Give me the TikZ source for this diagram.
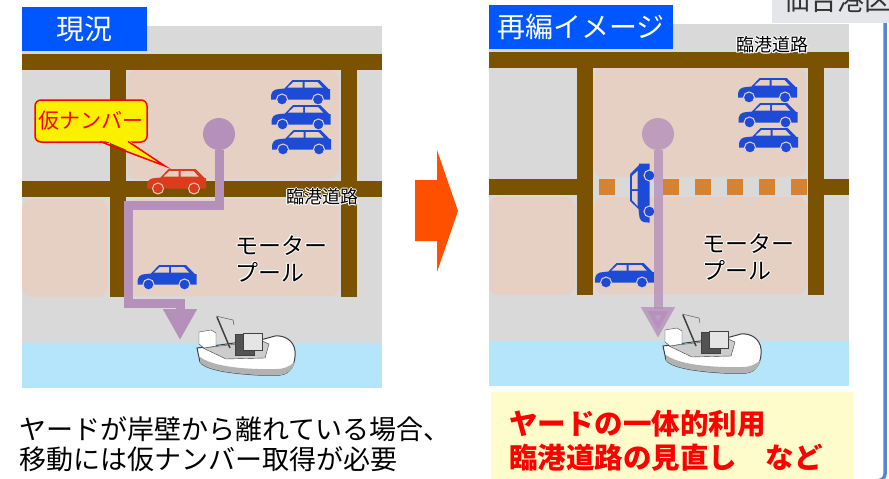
\documentclass[tikz,border=0pt]{standalone}
\usepackage{fontspec}
\setmainfont{Noto Sans CJK JP}
\usetikzlibrary{arrows.meta}

\definecolor{titleblue}{HTML}{0057FF}
\definecolor{yardgray}{HTML}{D9D9D9}
\definecolor{roadbrown}{HTML}{7B5300}
\definecolor{blockpink}{HTML}{E6D0C4}
\definecolor{seablue}{HTML}{B5E5FB}
\definecolor{carblue}{HTML}{1E4BD6}
\definecolor{carred}{HTML}{DC3C1E}
\definecolor{routepurple}{HTML}{B590BA}
\definecolor{gateorange}{HTML}{D6822E}
\definecolor{nextorange}{HTML}{FF5000}
\definecolor{notebg}{HTML}{FFFCCB}
\definecolor{tagyellow}{HTML}{FAF000}
\definecolor{framegray}{HTML}{E4E6EA}
\definecolor{frameblue}{HTML}{5A86CB}
\definecolor{hullline}{HTML}{404040}

% white rim round a label
\newcommand{\halo}[1]{\leavevmode\rlap{\color{white}%
  \rlap{\kern1pt#1}\rlap{\kern-1pt#1}\rlap{\raisebox{1pt}{#1}}\rlap{\raisebox{-1pt}{#1}}%
  \rlap{\kern.7pt\raisebox{.7pt}{#1}}\rlap{\kern-.7pt\raisebox{.7pt}{#1}}%
  \rlap{\kern.7pt\raisebox{-.7pt}{#1}}\rlap{\kern-.7pt\raisebox{-.7pt}{#1}}}#1}

\newcommand{\fs}[1]{\fontsize{#1}{#1}\selectfont}

\tikzset{
  road/.style={fill=roadbrown},
  block/.style={fill=blockpink, rounded corners=10pt},
  route/.style={draw=routepurple, line width=9pt, -{Triangle[width=32pt,length=31pt]}},
  depot/.style={circle, fill=routepurple, minimum size=32pt, inner sep=0pt},
  title/.style={fill=titleblue, text=white, font=\fs{28}, inner sep=0pt,
    minimum height=44pt, anchor=north west},
  label/.style={font=\fs{18}, inner sep=0pt},
  poolname/.style={font=\fs{23}, inner sep=0pt, anchor=base west},
  pics/car/.style={code={
    \fill[#1] (-29.5,6) .. controls (-29.5,-1) and (-27,-2.5) .. (-21,-3) -- (-16,-3.5)
      -- (-8,-12) -- (19,-12) -- (28,-3) -- (29.5,-3) -- (29.5,7.5) -- (-29.5,7.5) -- cycle;
    \fill[blockpink] (-13,-4.5) -- (-7,-10) -- (2,-10) -- (2,-4.5) -- cycle;
    \fill[blockpink] (4,-10) -- (17,-10) -- (22,-4.5) -- (4,-4.5) -- cycle;
    \filldraw[fill=#1, draw=blockpink, line width=1pt]
      (-18.5,7.5) circle[radius=5.5pt] (17.5,7.5) circle[radius=5.5pt];
  }},
  pics/boat/.style={code={
    \filldraw[fill=white, draw=hullline, line width=1pt] (1,33) -- (4,47)
      .. controls (8,53) and (25,58) .. (62,60) -- (84,60)
      .. controls (95,59) and (100,48) .. (99,36) .. controls (98,26) and (89,20) .. (79,21)
      -- (68,24) -- cycle;
    \fill[gray!60] (4,47) .. controls (8,53) and (25,58) .. (62,60) -- (84,60)
      .. controls (92,59.5) and (97,54) .. (98.5,47) .. controls (93,52) and (88,54) .. (80,54)
      -- (62,54) .. controls (30,53) and (12,48) .. (4,42) -- cycle;
    \filldraw[fill=gray!40, draw=hullline] (7,33) -- (66,26) -- (73,29) -- (69,43) -- (30,44) -- cycle;
    \filldraw[fill=white, draw=hullline] (3,17) -- (15,15) -- (20,18) -- (20,31) -- (8,33) -- (3,29) -- cycle;
    \draw[hullline, line width=1.5pt] (21,2) -- (34,33);
    \draw[hullline] (20,1) -- (37,5) -- (38,10);
    \filldraw[fill=gray!65!black, draw=hullline] (39,19) rectangle (58,40);
    \filldraw[fill=gray!20, draw=hullline] (47,18) rectangle (66,35);
  }}
}

% ground plan shared by both panels
\newcommand{\yardmap}{%
  \fill[yardgray] (22,26) rectangle (382,388);
  \fill[seablue] (22,343) rectangle (382,388);
  \fill[block] (127,70) rectangle (339,179);
  \fill[block] (22,199) rectangle (108,297);
  \fill[block] (127,199) rectangle (340,296);
  \fill[road] (22,54) rectangle (382,70);
  \fill[road] (110,54) rectangle (126,297);
  \fill[road] (341,54) rectangle (357,297);
}

\begin{document}
\begin{tikzpicture}[x=1pt, y=-1pt]
  \useasboundingbox (0,0) rectangle (889,479);

  % before
  \yardmap
  \fill[road] (22,181) rectangle (382,197);
  \node[title, minimum width=125pt] (now) at (22,7) {現況};
  \pic at (300.5,92) {car=carblue};
  \pic at (301,117) {car=carblue};
  \pic at (301.5,142) {car=carblue};
  \pic at (167,277) {car=carblue};
  \pic at (176.5,181) {car=carred};
  \node[label] (roadA) at (322,197) {\halo{臨港道路}};
  \node[poolname] (poolA1) at (235,254) {\halo{モーター}};
  \node[poolname] (poolA2) at (235,281) {\halo{プール}};
  \node[depot] (depotA) at (219,134) {};
  \coordinate (quayA) at (180,340);
  \draw[route] (depotA.south) |- (128,205) |- (180,303) -- (quayA);
  \pic at (196,315) {boat};
  \node[draw=red, fill=tagyellow, rounded corners=6pt, line width=1.5pt,
    minimum width=112pt, minimum height=42pt, text=red, font=\fs{21}] (tag) at (91,121) {仮ナンバー};
  \coordinate (tagtip) at (165,166);
  \fill[tagyellow] (101,139) -- (127,139) -- (tagtip) -- cycle;
  \draw[red, line width=1.5pt] (100,141.5) -- (tagtip) -- (128,141.5);
  \node[anchor=base west, font=\fs{27}, inner sep=0pt] (noteA1) at (19,439) {ヤードが岸壁から離れている場合、};
  \node[anchor=base west, font=\fs{27}, inner sep=0pt] (noteA2) at (19,469) {移動には仮ナンバー取得が必要};

  % arrow between panels
  \fill[nextorange] (415,180) -- (437,180) -- (437,150) -- (458,211) -- (437,272)
    -- (437,241) -- (415,241) -- cycle;

  % after
  \begin{scope}[shift={(467,-2)}]
    \yardmap
    \fill[road] (22,181) rectangle (110,197);
    \fill[road] (357,181) rectangle (382,197);
    \foreach \gx in {132,164,...,324}
      \fill[gateorange] (\gx,181) rectangle ++(16,16);
    \node[title, minimum width=184pt] (plan) at (22,7) {再編イメージ};
    \pic at (300.5,92) {car=carblue};
    \pic at (301,117) {car=carblue};
    \pic at (301.5,142) {car=carblue};
    \pic at (157.5,277) {car=carblue};
    \pic[rotate=90] at (175,195) {car=carblue};
    \node[label] (roadB) at (305.5,47) {\halo{臨港道路}};
    \node[poolname] (poolB1) at (235,254) {\halo{モーター}};
    \node[poolname] (poolB2) at (235,281) {\halo{プール}};
    \node[depot, opacity=.8] (depotB) at (191,136) {};
    \coordinate (quayB) at (191,340);
    \draw[route, opacity=.8] (depotB.south) -- (quayB);
    \pic at (195,315) {boat};
  \end{scope}

  \fill[notebg] (491,392) rectangle (853,481);
  \node[anchor=base west, font=\fs{28.5}\bfseries, text=red, inner sep=0pt] (noteB1) at (509,434) {ヤードの一体的利用};
  \node[anchor=base west, font=\fs{28.5}\bfseries, text=red, inner sep=0pt] (noteB2) at (509,468) {臨港道路の見直し　など};

  % frame at the right edge
  \fill[framegray] (772,0) rectangle (889,23);
  \begin{scope}
    \clip (772,0) rectangle (889,23);
    \node[anchor=base west, font=\fs{27}, text=black!80, inner sep=0pt] (port) at (783,10) {仙台港区};
  \end{scope}
  \draw[frameblue, line width=3.5pt, rounded corners=6pt] (885,23) -- (885,480) -- (874,481);
\end{tikzpicture}
\end{document}
